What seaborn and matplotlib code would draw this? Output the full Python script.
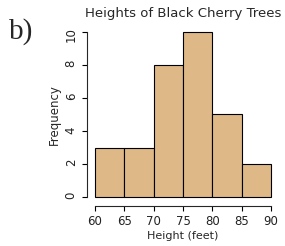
import matplotlib
matplotlib.use("Agg")
import matplotlib.pyplot as plt
import seaborn as sns
import numpy as np

# Data
bin_edges = [60, 65, 70, 75, 80, 85, 90]
bin_mids = [62.5, 67.5, 72.5, 77.5, 82.5, 87.5]
counts = [3, 3, 8, 10, 5, 2]
x_ticks = [60, 65, 70, 75, 80, 85, 90]
y_ticks = [0, 2, 4, 6, 8, 10]

sns.set_style("ticks")
plt.rcParams['font.family'] = ['DejaVu Sans']

W, H = 285, 246
fig = plt.figure(figsize=(W / 100, H / 100), dpi=100)
left, right, bottom, top = 95, 271, 197, 32
ax = fig.add_axes([left / W, (H - bottom) / H, (right - left) / W, (bottom - top) / H])

sns.histplot(x=bin_mids, weights=counts, bins=bin_edges, ax=ax,
             color="#DEB887", alpha=1.0, edgecolor="black", linewidth=0.8)
for p in ax.patches:
    p.set_clip_on(False)

ax.set_xlim(60, 90)
ax.set_ylim(0, 10)
ax.set_xticks(x_ticks)
ax.set_yticks(y_ticks)
ax.tick_params(axis='both', labelsize=8.5, length=3.5, width=0.8, color="black",
               labelcolor="#222222", pad=3)
ax.tick_params(axis='y', labelrotation=90)
for lab in ax.get_yticklabels():
    lab.set_va('center')
sns.despine(ax=ax, offset={'left': 6, 'bottom': 6.5})
ax.spines['left'].set_bounds(0, 10)
ax.spines['bottom'].set_bounds(60, 90)
ax.spines['left'].set_linewidth(0.8)
ax.spines['bottom'].set_linewidth(0.8)

ax.set_xlabel("Height (feet)", fontsize=8, labelpad=2)
ax.set_ylabel("Frequency", fontsize=8.5, labelpad=3)
ax.set_title("Heights of Black Cherry Trees", fontsize=9.5, pad=11)

fig.text(9 / W, 1 - 32 / H, "b)", fontsize=21, family=['Liberation Serif', 'DejaVu Serif'],
         va='center', ha='left')

fig.savefig("out.png", dpi=100)
